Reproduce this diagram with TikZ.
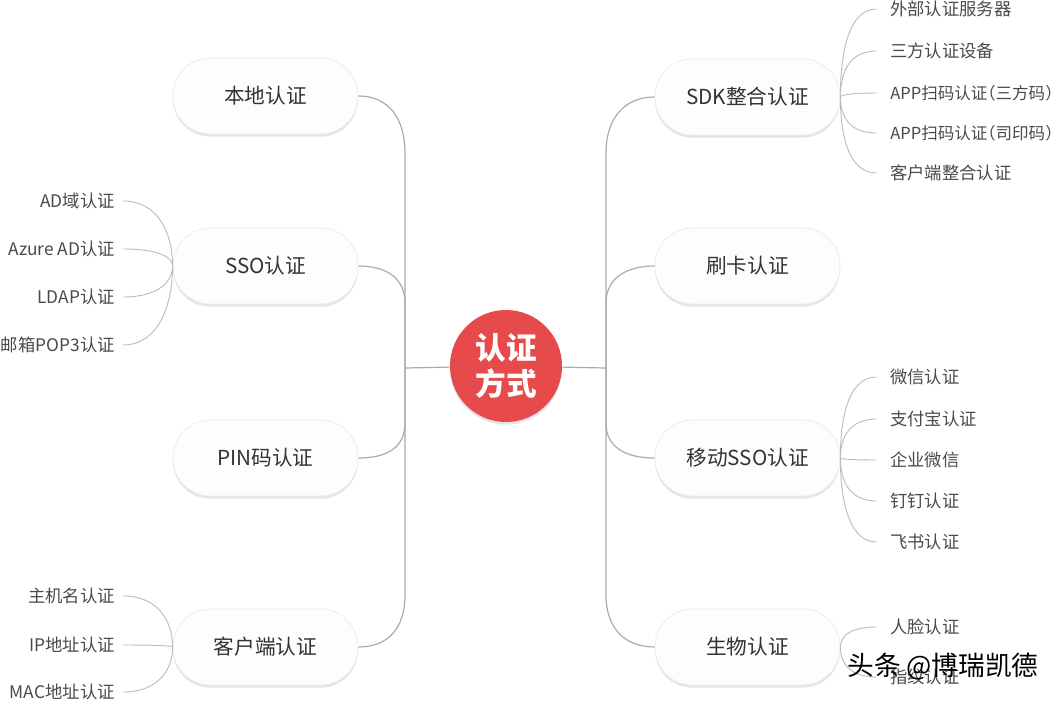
\documentclass[tikz,border=0pt]{standalone}
\usepackage{fontspec}
\setmainfont{Noto Sans CJK SC}
\usetikzlibrary{shadows}
\definecolor{boxfill}{HTML}{FEFCFC}
\definecolor{boxedge}{HTML}{F1EBEB}
\definecolor{boxtext}{HTML}{333333}
\definecolor{leaftext}{HTML}{4A4A4A}
\definecolor{trunkline}{HTML}{ABABAB}
\definecolor{leafline}{HTML}{BDBDBD}
\definecolor{hubred}{HTML}{E64A4A}
\newcommand{\halfpunct}{\addfontfeature{RawFeature=+halt}}
\begin{document}
\begin{tikzpicture}[x=0.75pt,y=-0.75pt,
  pill/.style={draw=boxedge, line width=0.6pt, fill=boxfill, rounded corners=28pt,
    minimum width=138.75pt, minimum height=57pt, inner sep=0pt,
    font=\fontsize{15.5}{18}\selectfont, text=boxtext,
    drop shadow={shadow xshift=0pt, shadow yshift=-2pt, opacity=0.10, fill=black}},
  leafL/.style={anchor=east, inner xsep=6pt, inner ysep=0pt,
    font=\fontsize{13}{15}\selectfont, text=leaftext},
  leafR/.style={anchor=west, inner xsep=0pt, inner ysep=0pt,
    font=\fontsize{13}{15}\selectfont, text=leaftext},
  leafRnarrow/.style={leafR, font=\fontsize{12.4}{15}\selectfont\halfpunct},
  trunk/.style={draw=trunkline, line width=0.9pt},
  twig/.style={draw=leafline, line width=0.7pt}]
\useasboundingbox (0,0) rectangle (1060,702);
\fill[white] (0,0) rectangle (1060,702);

% hub
\node[circle, fill=hubred, minimum size=84pt, inner sep=0pt, text=white,
  font=\bfseries\fontsize{23}{27}\selectfont, align=center,
  drop shadow={shadow xshift=0pt, shadow yshift=-2pt, opacity=0.10, fill=black}]
  (hub) at (506,366) {认证\\方式};
\coordinate (jl) at (405,368);
\coordinate (jr) at (606,368);

% main boxes
\node[pill] (b1) at (265.5,96) {本地认证};
\node[pill] (b2) at (265.5,266) {SSO认证};
\node[pill] (b3) at (265.5,458) {PIN码认证};
\node[pill] (b4) at (265.5,647) {客户端认证};
\node[pill] (b5) at (747.5,97) {SDK整合认证};
\node[pill] (b6) at (747.5,266) {刷卡认证};
\node[pill] (b7) at (747.5,458) {移动SSO认证};
\node[pill] (b8) at (747.5,647) {生物认证};

% trunks
\draw[trunk] (hub) -- (jl);
\draw[trunk] (hub) -- (jr);
\draw[trunk] (b1.east) .. controls +(30,0) and +(0,-35) .. (405,153) -- (jl);
\draw[trunk] (b2.east) .. controls +(28,0) and +(0,-25) .. (405,303) -- (jl);
\draw[trunk] (b3.east) .. controls +(28,0) and +(0,25) .. (405,423) -- (jl);
\draw[trunk] (b4.east) .. controls +(30,0) and +(0,33) .. (405,595) -- (jl);
\draw[trunk] (b5.west) .. controls +(-30,0) and +(0,-35) .. (606,153) -- (jr);
\draw[trunk] (b6.west) .. controls +(-28,0) and +(0,-25) .. (606,303) -- (jr);
\draw[trunk] (b7.west) .. controls +(-28,0) and +(0,25) .. (606,423) -- (jr);
\draw[trunk] (b8.west) .. controls +(-30,0) and +(0,33) .. (606,595) -- (jr);

% left leaves
\node[leafL] (l1) at (123,201) {AD域认证};
\node[leafL] (l2) at (123,249) {Azure AD认证};
\node[leafL] (l3) at (123,297) {LDAP认证};
\node[leafL] (l4) at (123,345) {邮箱POP3认证};
\node[leafL] (l5) at (123,596) {主机名认证};
\node[leafL] (l6) at (123,645) {IP地址认证};
\node[leafL] (l7) at (123,692) {MAC地址认证};

\draw[twig] (l1.east) .. controls +(35,0) and +(0,-33) .. (b2.west);
\draw[twig] (l2.east) .. controls +(35,0) and +(0,-9) .. (b2.west);
\draw[twig] (l3.east) .. controls +(35,0) and +(0,16) .. (b2.west);
\draw[twig] (l4.east) .. controls +(35,0) and +(0,40) .. (b2.west);
\draw[twig] (l5.east) .. controls +(35,0) and +(0,-26) .. (b4.west);
\draw[twig] (l6.east) .. controls +(35,0) and +(0,-1) .. (b4.west);
\draw[twig] (l7.east) .. controls +(35,0) and +(0,23) .. (b4.west);

% right leaves
\node[leafR] (r1) at (890,9) {外部认证服务器};
\node[leafR] (r2) at (890,51) {三方认证设备};
\node[leafRnarrow] (r3) at (890,93) {APP扫码认证（三方码）};
\node[leafRnarrow] (r4) at (890,133) {APP扫码认证（司印码）};
\node[leafR] (r5) at (890,173) {客户端整合认证};
\node[leafR] (r6) at (890,377) {微信认证};
\node[leafR] (r7) at (890,419) {支付宝认证};
\node[leafR] (r8) at (890,460) {企业微信};
\node[leafR] (r9) at (890,501) {钉钉认证};
\node[leafR] (r10) at (890,542) {飞书认证};
\node[leafR] (r11) at (890,627) {人脸认证};
\node[leafR] (r12) at (890,677) {指纹认证};

\draw[twig] (b5.east) .. controls +(0,-53) and +(-25,0) .. ([xshift=-10pt]r1.west);
\draw[twig] (b5.east) .. controls +(0,-28) and +(-25,0) .. ([xshift=-10pt]r2.west);
\draw[twig] (b5.east) .. controls +(0,-2) and +(-25,0) .. ([xshift=-10pt]r3.west);
\draw[twig] (b5.east) .. controls +(0,22) and +(-25,0) .. ([xshift=-10pt]r4.west);
\draw[twig] (b5.east) .. controls +(0,46) and +(-25,0) .. ([xshift=-10pt]r5.west);
\draw[twig] (b7.east) .. controls +(0,-49) and +(-25,0) .. ([xshift=-10pt]r6.west);
\draw[twig] (b7.east) .. controls +(0,-23) and +(-25,0) .. ([xshift=-10pt]r7.west);
\draw[twig] (b7.east) .. controls +(0,1) and +(-25,0) .. ([xshift=-10pt]r8.west);
\draw[twig] (b7.east) .. controls +(0,26) and +(-25,0) .. ([xshift=-10pt]r9.west);
\draw[twig] (b7.east) .. controls +(0,50) and +(-25,0) .. ([xshift=-10pt]r10.west);
\draw[twig] (b8.east) .. controls +(0,-12) and +(-25,0) .. ([xshift=-10pt]r11.west);
\draw[twig] (b8.east) .. controls +(0,18) and +(-25,0) .. ([xshift=-10pt]r12.west);

% watermark
\node[font=\fontsize{20}{22}\selectfont, text=black] (wm) at (943,667) {头条 @博瑞凯德};
\end{tikzpicture}
\end{document}
